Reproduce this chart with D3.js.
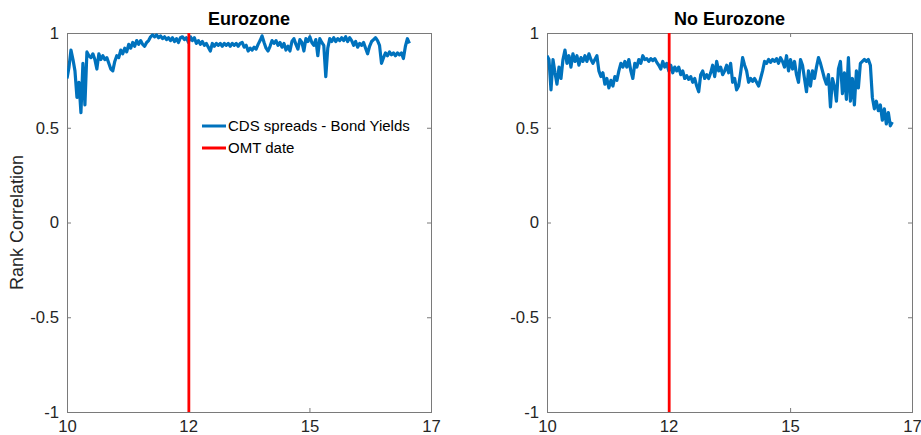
<!DOCTYPE html>
<html lang="en">
<head>
    <meta charset="utf-8">
    <title>Rank Correlation</title>
    <style>
        body { margin: 0; background: #fff; }
        text { font-family: Arial, "Liberation Sans", Helvetica, sans-serif; }
    </style>
</head>
<body>
    <div id="chart"></div>
</body>
<script src="https://d3js.org/d3.v7.min.js"></script>
<script>
    // series start and sampling step (every two weeks)
    const seriesStart = "2010-05-03"
    const stepDays = 14

    const xTickDates = ["2010-05-03", "2012-09-01", "2015-01-02", "2017-05-06"]
    const yTicks = [-1, -0.5, 0, 0.5, 1]
    const omtDate = "2012-09-06"

    const panelTitles = ["Eurozone", "No Eurozone"]
    const legendLabels = ["CDS spreads - Bond Yields", "OMT date"]
    const yLabel = "Rank Correlation"

    // rank correlation, CDS spreads vs bond yields, eurozone countries
    const eurozoneCorr = [
        0.76, 0.82, 0.91, 0.86, 0.80, 0.66, 0.74, 0.58, 0.84, 0.62,
        0.90, 0.88, 0.87, 0.89, 0.86, 0.81, 0.89, 0.86, 0.88, 0.86,
        0.87, 0.84, 0.81, 0.80, 0.85, 0.88, 0.87, 0.91, 0.89, 0.92,
        0.90, 0.94, 0.92, 0.95, 0.93, 0.96, 0.94, 0.96, 0.94, 0.93,
        0.95, 0.96, 0.98, 0.99, 0.98, 0.99, 0.975, 0.985, 0.97, 0.98,
        0.965, 0.975, 0.96, 0.975, 0.955, 0.97, 0.95, 0.975, 0.98, 0.965,
        0.975, 0.95, 0.98, 0.96, 0.975, 0.945, 0.96, 0.94, 0.955, 0.935,
        0.945, 0.925, 0.905, 0.945, 0.93, 0.945, 0.935, 0.945, 0.93, 0.945,
        0.935, 0.945, 0.93, 0.945, 0.935, 0.945, 0.93, 0.945, 0.95, 0.925,
        0.935, 0.905, 0.92, 0.91, 0.925, 0.915, 0.94, 0.96, 0.985, 0.95,
        0.92, 0.905, 0.93, 0.96, 0.945, 0.96, 0.935, 0.95, 0.925, 0.945,
        0.91, 0.93, 0.905, 0.955, 0.97, 0.94, 0.915, 0.965, 0.95, 0.905,
        0.97, 0.955, 0.98, 0.95, 0.935, 0.965, 0.88, 0.97, 0.95, 0.935,
        0.77, 0.92, 0.97, 0.955, 0.975, 0.955, 0.97, 0.96, 0.975, 0.96,
        0.98, 0.955, 0.975, 0.96, 0.935, 0.955, 0.925, 0.945, 0.935, 0.95,
        0.92, 0.89, 0.93, 0.955, 0.965, 0.975, 0.96, 0.935, 0.84, 0.87,
        0.895, 0.88, 0.90, 0.885, 0.895, 0.88, 0.895, 0.885, 0.895, 0.865,
        0.93, 0.97, 0.945
    ]

    // same measure, non eurozone countries
    const noEurozoneCorr = [
        0.88, 0.86, 0.70, 0.86, 0.79, 0.73, 0.82, 0.76, 0.86, 0.91,
        0.84, 0.88, 0.82, 0.89, 0.85, 0.88, 0.83, 0.87, 0.85, 0.88,
        0.85, 0.89, 0.86, 0.84, 0.86, 0.88, 0.80, 0.77, 0.79, 0.73,
        0.76, 0.71, 0.75, 0.72, 0.77, 0.75, 0.80, 0.84, 0.82, 0.85,
        0.82, 0.86, 0.80, 0.76, 0.84, 0.82, 0.86, 0.84, 0.88, 0.86,
        0.865, 0.85, 0.865, 0.855, 0.865, 0.845, 0.83, 0.81, 0.85, 0.82,
        0.84, 0.80, 0.83, 0.79, 0.82, 0.80, 0.82, 0.78, 0.80, 0.76,
        0.775, 0.755, 0.77, 0.74, 0.76, 0.72, 0.69, 0.78, 0.80, 0.76,
        0.78, 0.76, 0.79, 0.83, 0.77, 0.85, 0.80, 0.82, 0.78, 0.80,
        0.83, 0.79, 0.84, 0.74, 0.76, 0.70, 0.72, 0.79, 0.87, 0.83,
        0.80, 0.74, 0.76, 0.745, 0.76, 0.74, 0.72, 0.76, 0.80, 0.85,
        0.84, 0.86, 0.845, 0.86, 0.85, 0.865, 0.84, 0.87, 0.85, 0.82,
        0.88, 0.80, 0.86, 0.81, 0.85, 0.78, 0.74, 0.86, 0.83, 0.76,
        0.69, 0.80, 0.72, 0.80, 0.76, 0.82, 0.87, 0.84, 0.80, 0.76,
        0.73, 0.78, 0.61, 0.76, 0.72, 0.64, 0.81, 0.85, 0.68, 0.79,
        0.65, 0.87, 0.64, 0.76, 0.62, 0.80, 0.71, 0.84, 0.85, 0.86,
        0.85, 0.86, 0.83, 0.66, 0.60, 0.64, 0.59, 0.62, 0.54, 0.60,
        0.52, 0.58, 0.51, 0.53
    ]

    const BLUE = "#0072bd"
    const RED = "#ff0000"
    const AXIS = "#7a7a7a"
    const TEXT = "#262626"

    const parse = d3.utcParse("%Y-%m-%d")
    const start = parse(seriesStart)
    const tickDates = xTickDates.map(parse)

    function toPoints(values) {
        return values.map((v, i) => ({ date: d3.utcDay.offset(start, i * stepDays), value: v }))
    }

    const panels = [
        { title: panelTitles[0], points: toPoints(eurozoneCorr), left: 67, right: 431, legend: true, ylabel: true },
        { title: panelTitles[1], points: toPoints(noEurozoneCorr), left: 547, right: 912 }
    ]
    const plotTop = 33, plotBottom = 412

    const svg = d3.select("#chart").append("svg")
        .attr("width", 921)
        .attr("height", 435)

    panels.forEach((p, k) => {
        let x = d3.scaleUtc()
            .domain([tickDates[0], tickDates[tickDates.length - 1]])
            .range([p.left, p.right])
        let y = d3.scaleLinear()
            .domain([-1, 1])
            .range([plotBottom, plotTop])

        let g = svg.append("g")

        let clipId = "clip" + k
        g.append("clipPath").attr("id", clipId)
            .append("rect")
            .attr("x", p.left).attr("y", plotTop)
            .attr("width", p.right - p.left).attr("height", plotBottom - plotTop)

        // axes with inward ticks, labels on bottom and left only
        let fmtX = d3.utcFormat("%y")
        let axes = [
            { axis: d3.axisBottom(x).tickValues(tickDates).tickFormat(fmtX).tickPadding(8), t: `translate(0,${plotBottom})` },
            { axis: d3.axisTop(x).tickValues(tickDates).tickFormat(""), t: `translate(0,${plotTop})` },
            { axis: d3.axisLeft(y).tickValues(yTicks).tickFormat(d => String(d)).tickPadding(8), t: `translate(${p.left},0)` },
            { axis: d3.axisRight(y).tickValues(yTicks).tickFormat(""), t: `translate(${p.right},0)` }
        ]
        axes.forEach(a => {
            let ag = g.append("g")
                .attr("transform", a.t)
                .call(a.axis.tickSizeInner(-4).tickSizeOuter(0))
            ag.select(".domain").remove()
            ag.selectAll("line").attr("stroke", AXIS)
            ag.selectAll("text")
                .attr("fill", TEXT)
                .style("font-size", "16.7px")
                .style("font-family", "Arial, 'Liberation Sans', sans-serif")
        })

        g.append("rect")
            .attr("x", p.left).attr("y", plotTop)
            .attr("width", p.right - p.left).attr("height", plotBottom - plotTop)
            .attr("fill", "none")
            .attr("stroke", AXIS)
            .attr("stroke-width", 1)
            .attr("shape-rendering", "crispEdges")

        let line = d3.line()
            .x(d => x(d.date))
            .y(d => y(d.value))

        g.append("path")
            .datum(p.points)
            .attr("clip-path", `url(#${clipId})`)
            .attr("d", line)
            .attr("fill", "none")
            .attr("stroke", BLUE)
            .attr("stroke-width", 3.2)
            .attr("stroke-linejoin", "round")

        let omt = parse(omtDate)
        g.append("line")
            .attr("x1", x(omt)).attr("x2", x(omt))
            .attr("y1", plotTop).attr("y2", plotBottom)
            .attr("stroke", RED)
            .attr("stroke-width", 2.8)

        g.append("text")
            .attr("x", (p.left + p.right) / 2)
            .attr("y", 25)
            .attr("text-anchor", "middle")
            .attr("fill", "#000")
            .style("font-size", "18px")
            .style("font-weight", "bold")
            .text(p.title)

        if (p.ylabel) {
            g.append("text")
                .attr("transform", `translate(23,${(plotTop + plotBottom) / 2}) rotate(-90)`)
                .attr("text-anchor", "middle")
                .attr("fill", TEXT)
                .style("font-size", "18px")
                .text(yLabel)
        }

        if (p.legend) {
            let lg = g.append("g")
            let colors = [BLUE, RED]
            legendLabels.forEach((label, i) => {
                let ly = 126 + i * 22
                lg.append("line")
                    .attr("x1", 202).attr("x2", 226)
                    .attr("y1", ly).attr("y2", ly)
                    .attr("stroke", colors[i])
                    .attr("stroke-width", 3)
                lg.append("text")
                    .attr("x", 228)
                    .attr("y", ly)
                    .attr("dy", "0.35em")
                    .attr("fill", "#000")
                    .style("font-size", "15px")
                    .text(label)
            })
        }
    })
</script>
</html>
